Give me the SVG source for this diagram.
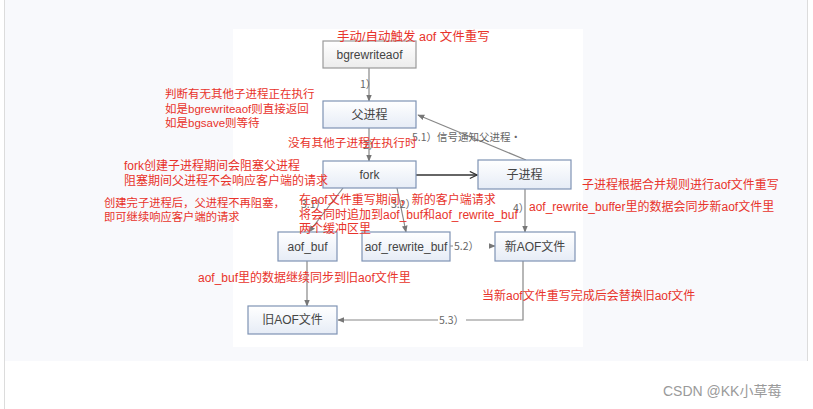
<svg xmlns="http://www.w3.org/2000/svg" width="813" height="409" viewBox="0 0 813 409">
<defs>
<linearGradient id="gGrey" x1="0" y1="0" x2="0" y2="1"><stop offset="0" stop-color="#ffffff"/><stop offset="1" stop-color="#ececec"/></linearGradient>
<linearGradient id="gBlue" x1="0" y1="0" x2="0" y2="1"><stop offset="0" stop-color="#ffffff"/><stop offset="1" stop-color="#e6ecf6"/></linearGradient>
<marker id="tri" viewBox="0 0 10 10" refX="9" refY="5" markerWidth="7" markerHeight="7" orient="auto" markerUnits="userSpaceOnUse"><path d="M0,1 L10,5 L0,9 Z" fill="#777"/></marker>
<marker id="chev" viewBox="0 0 10 10" refX="9" refY="5" markerWidth="9" markerHeight="9" orient="auto" markerUnits="userSpaceOnUse"><path d="M1,1 L9,5 L1,9" fill="none" stroke="#333" stroke-width="1.3"/></marker>
</defs>
<style>
.node rect{stroke:#7f93b4;stroke-width:1.2;fill:url(#gBlue)}
.node.grey rect{stroke:#9a9a9a;fill:url(#gGrey)}
.node text{font-family:"Liberation Sans","Noto Sans CJK SC",sans-serif;font-size:12px;fill:#444;text-anchor:middle}
.cn path,.cn line{stroke:#888;stroke-width:1.2;fill:none}
.cl{font-family:"Noto Sans CJK SC",sans-serif;font-size:10.5px;fill:#666}
.red{font-family:"Liberation Sans","Noto Sans CJK SC",sans-serif;font-size:12px;fill:#e8332b}
</style>
<rect width="813" height="409" fill="#ffffff"/>
<rect x="5" y="0" width="802" height="361" fill="#f8f9fc"/>
<line x1="4.5" y1="0" x2="4.5" y2="409" stroke="#dcdcdc"/>
<line x1="807.5" y1="0" x2="807.5" y2="361" stroke="#dcdcdc"/>
<rect x="233" y="29" width="350" height="318" fill="#ffffff"/>

<g class="cn" id="connectors">
<line x1="369" y1="68" x2="369" y2="101" marker-end="url(#tri)"/>
<line x1="369" y1="128" x2="369" y2="161" marker-end="url(#tri)"/>
<line x1="416" y1="175" x2="477" y2="175" style="stroke:#333;stroke-width:1.4" marker-end="url(#chev)"/>
<line x1="526" y1="160" x2="418" y2="115" marker-end="url(#tri)"/>
<line x1="343" y1="188" x2="309" y2="232" marker-end="url(#tri)"/>
<line x1="397" y1="188" x2="406" y2="232" marker-end="url(#tri)"/>
<line x1="525" y1="189" x2="525" y2="232" marker-end="url(#tri)"/>
<line x1="450" y1="246" x2="495" y2="246" marker-end="url(#tri)"/>
<line x1="307" y1="261" x2="307" y2="306" marker-end="url(#tri)"/>
<path d="M523,261 V320 H338" marker-end="url(#tri)"/>
<text class="cl" x="360" y="88">1）</text>
<text class="cl" x="363" y="149">2）</text>
<text class="cl" x="412" y="141">5.1）信号通知父进程·</text>
<text class="cl" x="301" y="208">3.1）</text>
<text class="cl" x="391" y="208">3.2）</text>
<text class="cl" x="513" y="212">4）</text>
<rect x="453" y="240" width="36" height="12" fill="#ffffff"/>
<text class="cl" x="454" y="250">5.2）</text>
<rect x="438" y="314" width="28" height="12" fill="#ffffff"/>
<text class="cl" x="439" y="324">5.3）</text>
</g>

<g class="node grey" id="bgrewriteaof"><rect x="323" y="41" width="93" height="27"/><text x="369.5" y="59">bgrewriteaof</text></g>
<g class="node" id="parent"><rect x="323" y="101" width="93" height="27"/><text x="369.5" y="119">父进程</text></g>
<g class="node" id="fork"><rect x="323" y="161" width="93" height="27"/><text x="369.5" y="179">fork</text></g>
<g class="node" id="child"><rect x="478" y="160" width="93" height="29"/><text x="524.5" y="179">子进程</text></g>
<g class="node" id="aof_buf"><rect x="278" y="232" width="59" height="29"/><text x="307.5" y="251">aof_buf</text></g>
<g class="node" id="aof_rewrite_buf"><rect x="362" y="232" width="88" height="29"/><text x="406" y="251">aof_rewrite_buf</text></g>
<g class="node" id="new_aof"><rect x="495" y="232" width="80" height="29"/><text x="535" y="251">新AOF文件</text></g>
<g class="node" id="old_aof"><rect x="248" y="306" width="89" height="28"/><text x="292.5" y="324">旧AOF文件</text></g>

<g id="notes">
<text class="red" x="337" y="40.5" style="font-size:12.5px">手动/自动触发 aof 文件重写</text>
<text class="red" x="165" y="98" style="font-size:11.5px">判断有无其他子进程正在执行</text>
<text class="red" x="165" y="112.5" style="font-size:11.5px">如是bgrewriteaof则直接返回</text>
<text class="red" x="165" y="127" style="font-size:11.5px">如是bgsave则等待</text>
<text class="red" x="288" y="147" style="font-size:11.7px">没有其他子进程在执行时</text>
<text class="red" x="124" y="170">fork创建子进程期间会阻塞父进程</text>
<text class="red" x="124" y="184.5">阻塞期间父进程不会响应客户端的请求</text>
<text class="red" x="104" y="207" style="font-size:11.3px">创建完子进程后，父进程不再阻塞，</text>
<text class="red" x="104" y="221" style="font-size:11.3px">即可继续响应客户端的请求</text>
<text class="red" x="299" y="204">在aof文件重写期间，新的客户端请求</text>
<text class="red" x="299" y="219">将会同时追加到aof_buf和aof_rewrite_buf</text>
<text class="red" x="299" y="233">两个缓冲区里</text>
<text class="red" x="582" y="189">子进程根据合并规则进行aof文件重写</text>
<text class="red" x="529" y="211">aof_rewrite_buffer里的数据会同步新aof文件里</text>
<text class="red" x="198" y="282">aof_buf里的数据继续同步到旧aof文件里</text>
<text class="red" x="482" y="300">当新aof文件重写完成后会替换旧aof文件</text>
</g>
<text x="663" y="396" font-family="'Liberation Sans','Noto Sans CJK SC',sans-serif" font-size="14" fill="#9a9a9a">CSDN @KK小草莓</text>
</svg>
